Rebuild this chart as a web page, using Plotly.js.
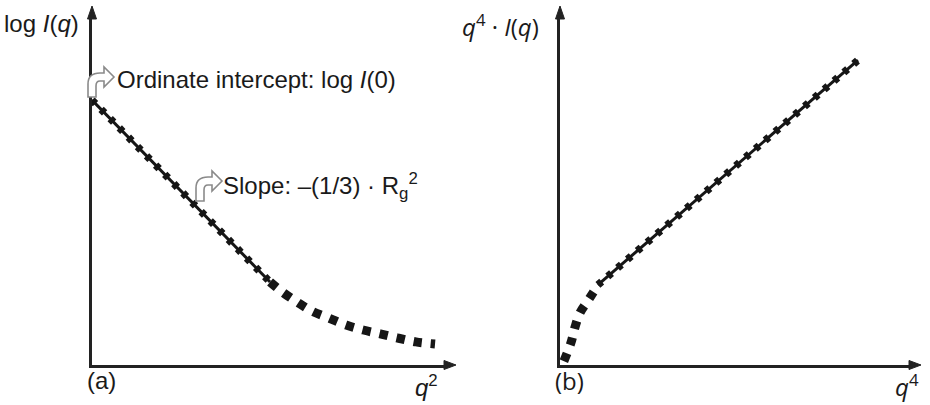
<!DOCTYPE html>
<html>
<head>
<meta charset="utf-8">
<script src="https://cdn.plot.ly/plotly-3.0.1.min.js"></script>
<style>html,body{margin:0;padding:0;background:#fff;}#chart{width:930px;height:405px;}</style>
</head>
<body>
<div id="chart"></div>
<script>
// Panel (a): Guinier plot  log I(q) vs q^2
const guinierFitQ2 = [0, 5.03];
const guinierFitLogI = [7.57, 2.37];
const guinierTailQ2 = [5.03, 5.37, 5.79, 6.21, 6.69, 7.18, 7.66, 8.14, 8.64, 9.15, 9.69];
const guinierTailLogI = [2.37, 2.09, 1.80, 1.54, 1.34, 1.14, 1.00, 0.89, 0.77, 0.66, 0.60];

// Panel (b): Porod plot  q^4 I(q) vs q^4
const porodLowQ4 = [0.11, 0.31, 0.43, 0.57, 0.77, 0.94, 1.08];
const porodLowQ4I = [0.11, 0.63, 1.09, 1.49, 1.80, 2.06, 2.29];
const porodFitQ4 = [1.08, 8.49];
const porodFitQ4I = [2.29, 8.71];

// Labels
const labelA = ['log <i>I</i>(<i>q</i>)', '<i>q</i><sup>2</sup>', '(a)'];
const labelB = ['<i>q</i><sup>4</sup> · <i>I</i>(<i>q</i>)', '<i>q</i><sup>4</sup>', '(b)'];
const noteIntercept = 'Ordinate intercept: log <i>I</i>(0)';
const noteSlope = 'Slope: –(1/3) · R<sub>g</sub><sup>2</sup>';

const W = 930, H = 405;
const tx = px => px / W;
const ty = py => 1 - py / H;
function path(cmds) {
  return cmds.map(c => c[0] + ' ' + (c.slice(1).reduce((a, v, i) => {
    a.push(i % 2 === 0 ? tx(v) : ty(v)); return a; }, []).join(' '))).join(' ');
}
const INK = '#161616';

const thin = {color: INK, width: 3};
const beads = {color: INK, width: 7.5, dash: '5px,8px'};
const traces = [
  {x: guinierFitQ2, y: guinierFitLogI, xaxis: 'x', yaxis: 'y', mode: 'lines', line: thin, hoverinfo: 'skip'},
  {x: guinierFitQ2, y: guinierFitLogI, xaxis: 'x', yaxis: 'y', mode: 'lines', line: beads, hoverinfo: 'skip'},
  {x: guinierTailQ2, y: guinierTailLogI, xaxis: 'x', yaxis: 'y', mode: 'lines', line: {color: INK, width: 9, dash: '8.5px,9px', shape: 'spline'}, hoverinfo: 'skip'},
  {x: porodFitQ4, y: porodFitQ4I, xaxis: 'x2', yaxis: 'y2', mode: 'lines', line: thin, hoverinfo: 'skip'},
  {x: porodFitQ4, y: porodFitQ4I, xaxis: 'x2', yaxis: 'y2', mode: 'lines', line: beads, hoverinfo: 'skip'},
  {x: porodLowQ4, y: porodLowQ4I, xaxis: 'x2', yaxis: 'y2', mode: 'lines', line: {color: INK, width: 9, dash: '8px,9px', shape: 'spline'}, hoverinfo: 'skip'}
];

const ax = {range: [0, 10], showgrid: false, zeroline: false, showticklabels: false, ticks: '',
  showline: true, linecolor: '#222', linewidth: 3, fixedrange: true};
const yDom = [40 / H, 390 / H];

function tri(x1, y1, x2, y2, x3, y3) {
  return {type: 'path', xref: 'paper', yref: 'paper', layer: 'above',
    path: path([['M', x1, y1], ['L', x2, y2], ['L', x3, y3]]) + ' Z',
    fillcolor: '#222', line: {color: '#222', width: 1}};
}
function bentArrow(dx, dy) {
  const p = (x, y) => [x + dx, y + dy];
  const cmds = [
    ['M', ...p(88, 97)], ['L', ...p(88, 84)], ['Q', ...p(88, 73), ...p(100, 73)],
    ['L', ...p(104, 73)], ['L', ...p(104, 67)], ['L', ...p(114, 77)], ['L', ...p(104, 87)],
    ['L', ...p(104, 81)], ['L', ...p(100, 81)], ['Q', ...p(96, 81), ...p(96, 86)],
    ['L', ...p(96, 97)]
  ];
  return {type: 'path', xref: 'paper', yref: 'paper', layer: 'above',
    path: path(cmds) + ' Z', fillcolor: '#ffffff', line: {color: '#8a8a8a', width: 1.6}};
}

const fA = {family: 'Liberation Sans, Arial, sans-serif', size: 24, color: '#1a1a1a'};
const fB = {family: '"Open Sans", "Liberation Sans", sans-serif', size: 24, color: '#1a1a1a'};
function note(text, px, py, font, anchor) {
  return {text: text, xref: 'paper', yref: 'paper', x: tx(px), y: ty(py), xanchor: anchor || 'left',
    yanchor: 'middle', showarrow: false, font: font};
}

const layout = {
  width: W, height: H, margin: {l: 0, r: 0, t: 0, b: 0},
  paper_bgcolor: '#ffffff', plot_bgcolor: '#ffffff', showlegend: false,
  xaxis: Object.assign({}, ax, {domain: [92 / W, 446 / W], anchor: 'y'}),
  yaxis: Object.assign({}, ax, {domain: yDom, anchor: 'x'}),
  xaxis2: Object.assign({}, ax, {domain: [560 / W, 911 / W], anchor: 'y2'}),
  yaxis2: Object.assign({}, ax, {domain: yDom, anchor: 'x2'}),
  shapes: [
    tri(92, 6, 87.5, 19, 96.5, 19),
    tri(456, 365, 444, 360.5, 444, 369.5),
    tri(560, 6, 555.5, 19, 564.5, 19),
    tri(921, 365, 909, 360.5, 909, 369.5),
    bentArrow(0, 0),
    bentArrow(108, 104)
  ],
  annotations: [
    note(labelA[0], 2, 24, fA),
    note(labelA[1], 413, 386, fA),
    note(labelA[2], 85, 380, fA),
    note(noteIntercept, 115, 79, fA),
    note(noteSlope, 221, 186, fA),
    note(labelB[0], 460, 25, fB),
    note(labelB[1], 893, 385, fB),
    note(labelB[2], 553, 380, fB)
  ]
};

Plotly.newPlot('chart', traces, layout, {staticPlot: true, displayModeBar: false});
</script>
</body>
</html>
